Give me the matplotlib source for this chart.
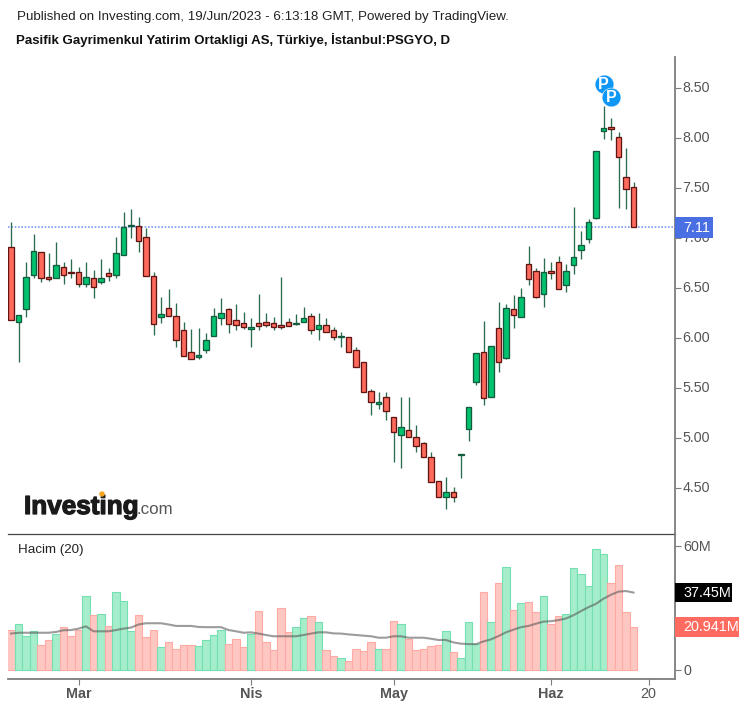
import matplotlib
matplotlib.use("Agg")
import matplotlib.pyplot as plt
import matplotlib.patheffects as pe
from matplotlib.patches import Rectangle, Circle
from matplotlib.transforms import IdentityTransform, ScaledTranslation

plt.rcParams['font.family'] = ['Liberation Sans', 'DejaVu Sans']

W, H = 746, 707

# OHLC, one value per daily candle
opens = [6.91, 6.16, 6.29, 6.63, 6.86, 6.61, 6.60, 6.71, 6.66, 6.66, 6.54, 6.60, 6.56, 6.65,
         6.63, 6.83, 7.12, 7.12, 7.01, 6.62, 6.21, 6.30, 6.22, 6.08, 5.86, 5.81, 5.88, 6.02,
         6.20, 6.29, 6.18, 6.15, 6.09, 6.15, 6.16, 6.15, 6.13, 6.16, 6.14, 6.16, 6.22, 6.09,
         6.13, 6.08, 6.01, 6.01, 5.88, 5.76, 5.47, 5.34, 5.41, 5.21, 5.03, 5.08, 5.01, 4.95,
         4.81, 4.57, 4.41, 4.46, 4.83, 5.09, 5.56, 5.86, 5.41, 6.10, 5.80, 6.29, 6.21, 6.74,
         6.67, 6.44, 6.67, 6.76, 6.53, 6.73, 6.88, 6.99, 7.20, 8.07, 8.11, 8.01, 7.61, 7.51]
highs = [7.16, 6.23, 6.76, 7.04, 6.86, 6.85, 6.96, 6.76, 6.79, 6.71, 6.76, 6.68, 6.79, 6.70,
         7.01, 7.26, 7.29, 7.21, 7.10, 6.66, 6.41, 6.49, 6.35, 6.16, 6.09, 6.10, 6.05, 6.30,
         6.40, 6.30, 6.34, 6.26, 6.20, 6.44, 6.25, 6.21, 6.61, 6.20, 6.24, 6.31, 6.25, 6.25,
         6.20, 6.11, 6.06, 6.01, 5.91, 5.76, 5.49, 5.46, 5.46, 5.21, 5.41, 5.41, 5.13, 4.96,
         4.86, 4.57, 4.61, 4.51, 4.84, 5.31, 5.85, 6.17, 5.92, 6.36, 6.34, 6.43, 6.50, 6.92,
         6.70, 6.80, 6.76, 6.82, 6.74, 7.31, 7.07, 7.19, 7.87, 8.32, 8.20, 8.06, 7.90, 7.56]
lows = [6.18, 5.76, 6.21, 6.60, 6.56, 6.57, 6.60, 6.54, 6.60, 6.51, 6.51, 6.40, 6.54, 6.57,
        6.60, 6.83, 7.00, 6.86, 6.62, 6.03, 6.15, 6.22, 5.91, 5.82, 5.79, 5.79, 5.85, 6.02,
        6.13, 6.05, 6.08, 6.09, 5.91, 6.08, 6.11, 6.08, 6.09, 6.12, 6.13, 6.16, 6.04, 5.98,
        6.06, 5.98, 5.91, 5.86, 5.71, 5.46, 5.23, 5.29, 5.18, 4.76, 4.70, 5.01, 4.86, 4.81,
        4.56, 4.41, 4.29, 4.36, 4.60, 4.97, 5.53, 5.33, 5.41, 5.66, 5.79, 6.10, 6.21, 6.53,
        6.40, 6.31, 6.59, 6.49, 6.46, 6.64, 6.79, 6.95, 7.19, 7.99, 7.98, 7.30, 7.29, 7.11]
closes = [6.18, 6.23, 6.61, 6.87, 6.60, 6.59, 6.73, 6.63, 6.65, 6.54, 6.61, 6.51, 6.60, 6.62,
          6.85, 7.11, 7.13, 6.97, 6.62, 6.14, 6.24, 6.22, 5.98, 5.82, 5.79, 5.83, 5.98, 6.22,
          6.25, 6.14, 6.13, 6.11, 6.11, 6.12, 6.13, 6.11, 6.11, 6.12, 6.15, 6.20, 6.08, 6.13,
          6.06, 6.01, 6.02, 5.86, 5.71, 5.46, 5.36, 5.36, 5.27, 5.06, 5.11, 5.01, 4.92, 4.81,
          4.56, 4.41, 4.46, 4.41, 4.84, 5.31, 5.85, 5.40, 5.92, 5.76, 6.30, 6.23, 6.41, 6.59,
          6.41, 6.66, 6.65, 6.49, 6.67, 6.81, 6.93, 7.16, 7.87, 8.10, 8.09, 7.81, 7.49, 7.11]

# volume in millions and its 20 day average
volumes = [19.3, 22.4, 16.4, 18.9, 12.2, 14.5, 17.6, 20.7, 16.4, 19.3, 35.9, 26.8, 27.3, 21.3,
           37.7, 33.5, 18.9, 26.7, 15.8, 19.3, 10.9, 13.3, 10.2, 12.0, 12.0, 11.5, 14.5, 16.9,
           19.3, 12.7, 15.1, 10.9, 17.6, 28.6, 13.3, 9.6, 29.8, 18.2, 20.7, 24.9, 26.2, 23.1,
           9.6, 6.7, 6.0, 4.2, 10.2, 9.1, 13.3, 10.2, 10.2, 23.7, 22.4, 15.1, 9.6, 10.2,
           11.5, 12.0, 18.9, 8.5, 6.0, 23.1, 12.7, 37.7, 23.1, 42.0, 49.9, 29.1, 32.2, 32.8,
           28.0, 35.9, 22.4, 26.2, 27.3, 49.3, 46.2, 40.8, 58.4, 55.9, 42.0, 50.6, 28.0, 20.941]
vol_ma = [17.6, 18.0, 18.0, 18.0, 18.0, 18.0, 18.4, 19.2, 19.3, 20.0, 21.1, 18.7, 18.7, 18.7,
          19.3, 20.0, 20.5, 22.0, 22.6, 22.6, 22.6, 22.0, 21.3, 21.3, 21.3, 20.8, 20.7, 20.7,
          20.7, 19.3, 18.7, 18.0, 18.2, 17.6, 16.9, 16.3, 16.3, 16.3, 16.3, 16.9, 17.6, 18.2,
          18.2, 17.7, 17.6, 17.2, 16.9, 16.6, 16.3, 15.6, 15.6, 16.3, 16.3, 15.6, 15.6, 15.6,
          15.1, 14.5, 14.5, 13.3, 12.7, 12.5, 12.5, 13.8, 14.8, 16.4, 18.2, 19.5, 20.7, 21.3,
          22.4, 23.4, 23.6, 24.1, 24.9, 26.5, 28.5, 30.4, 32.0, 34.5, 36.4, 37.9, 38.2, 37.45]

volume_colors_up = [c >= o for o, c in zip(opens, closes)]

month_ticks = [9, 32, 51, 72, 85]
month_labels = ['Mar', 'Nis', 'May', 'Haz', '20']
price_ticks = [4.5, 5.0, 5.5, 6.0, 6.5, 7.0, 7.5, 8.0, 8.5]
vol_ticks = [0, 20, 40, 60]
vol_tick_labels = ['0', '20M', '40M', '60M']

marker_x = [79, 80]
marker_y = [8.537, 8.413]
last_price = 7.11


def px_axes(fig, left, top, right, bottom):
    return fig.add_axes([left / W, 1 - bottom / H, (right - left) / W, (bottom - top) / H])


def value_tag(ax, value, text, color, width, height):
    # label box glued on the right axis, sized in pixels
    y = ax.transData.transform((0, value))[1]
    x = ax.get_window_extent().x1
    box = Rectangle((x, y - height / 2), width, height, transform=IdentityTransform(),
                    facecolor=color, edgecolor='none', zorder=10, clip_on=False)
    ax.figure.add_artist(box)
    t = ax.figure.text(x + 8, y - 0.5, text, transform=IdentityTransform(), color='white',
                       fontsize=10.4, va='center', ha='left', zorder=11)
    return t


fig = plt.figure(figsize=(W / 100, H / 100), dpi=100, facecolor='white')
ax = px_axes(fig, 8, 57, 675, 534)
ax_vol = px_axes(fig, 8, 534, 675, 679)
ax_vol.patch.set_visible(False)

grey = '#7d7d7d'
text_grey = '#555555'

for a in (ax, ax_vol):
    a.set_xlim(-0.4, 88.53)
    a.spines['top'].set_visible(False)
    a.spines['left'].set_visible(False)
    a.spines['right'].set_color(grey)
    a.spines['right'].set_linewidth(1.3)
    a.yaxis.tick_right()
    a.tick_params(axis='y', length=4, width=0.8, color=grey, labelcolor=text_grey,
                  labelsize=10.3, pad=2)

# price pane
ax.set_ylim(4.04, 8.81)
ax.spines['bottom'].set_color('#444444')
ax.spines['bottom'].set_linewidth(0.9)
ax.set_xticks([])
ax.set_yticks(price_ticks)
ax.set_yticklabels(['%.2f' % v for v in price_ticks])

# price labels sit a pixel higher and left than the default
nudge = ScaledTranslation(-1 / 100, 1 / 100, fig.dpi_scale_trans)
for lab in ax.get_yticklabels():
    lab.set_transform(lab.get_transform() + nudge)

ax.axhline(last_price, color='#7f9cf5', lw=1.2, ls=(0, (1, 1)), zorder=1)

for i in range(len(opens)):
    up = closes[i] >= opens[i]
    ax.vlines(i, lows[i], highs[i], color='#2b6b50', lw=0.95, zorder=2)
    ax.bar(i, abs(closes[i] - opens[i]), bottom=min(opens[i], closes[i]), width=0.68,
           color='#00c26f' if up else '#ff6a5c',
           edgecolor='#145c3e' if up else '#611512', linewidth=0.95, zorder=3)

for x, y in zip(marker_x, marker_y):
    ax.scatter([x], [y], s=185, color='#0e97f4', edgecolor='white', linewidth=0.4, zorder=5)
    ax.text(x, y - 0.005, 'P', color='white', fontsize=11.5, fontweight='bold', ha='center',
            va='center', zorder=6)

# volume pane
ax_vol.set_ylim(-4.39, 65.8)
ax_vol.spines['bottom'].set_color(grey)
ax_vol.spines['bottom'].set_linewidth(1.3)
ax_vol.set_yticks(vol_ticks)
ax_vol.set_yticklabels(vol_tick_labels)
ax_vol.set_xticks(month_ticks)
ax_vol.set_xticklabels(month_labels)
ax_vol.tick_params(axis='x', length=4, width=0.8, color=grey, labelcolor=text_grey,
                   labelsize=10.4, pad=2)
for lab in ax_vol.get_xticklabels()[:4]:
    lab.set_fontweight('bold')

bar_colors = ['#a6edcb' if u else '#ffc7c2' for u in volume_colors_up]
bar_edges = ['#74dfb0' if u else '#ffaaa4' for u in volume_colors_up]
ax_vol.bar(range(len(volumes)), volumes, width=1.0, color=bar_colors, edgecolor=bar_edges,
           linewidth=0.8, zorder=2)
ax_vol.plot(range(len(vol_ma)), vol_ma, color='#5a5a5a', alpha=0.6, lw=1.5, zorder=3)

fig.text(18 / W, 1 - 550 / H, 'Hacim (20)', fontsize=9.6, color='#222222', va='center', ha='left')

fig.canvas.draw()
value_tag(ax, last_price, '7.11', '#4a6fe3', 38, 21)
value_tag(ax_vol, vol_ma[-1], '37.45M', '#000000', 57, 19)
value_tag(ax_vol, volumes[-1], '20.941M', '#ff6b60', 64, 20)

# header lines
fig.text(17 / W, 1 - 17 / H, 'Published on Investing.com, 19/Jun/2023 - 6:13:18 GMT, Powered by TradingView.',
         fontsize=9.6, color='#222222', va='center', ha='left')
fig.text(16 / W, 1 - 40 / H, 'Pasifik Gayrimenkul Yatirim Ortakligi AS, Türkiye, İstanbul:PSGYO, D',
         fontsize=9.5, fontweight='bold', color='#111111', va='center', ha='left')

# logo
logo = fig.text(24 / W, 1 - 514 / H, 'Investing', fontsize=18.8, fontweight='bold', color='#1a1a1a',
                va='baseline', ha='left')
logo.set_path_effects([pe.withStroke(linewidth=0.9, foreground='#1a1a1a')])
fig.text(137 / W, 1 - 514 / H, '.com', fontsize=12.2, color='#555555', va='baseline', ha='left')
fig.add_artist(Circle((102 / W, 1 - 494 / H), 0.0028, transform=fig.transFigure, color='#f5a623',
                      zorder=5))

fig.savefig('out.png', dpi=100, facecolor='white')
